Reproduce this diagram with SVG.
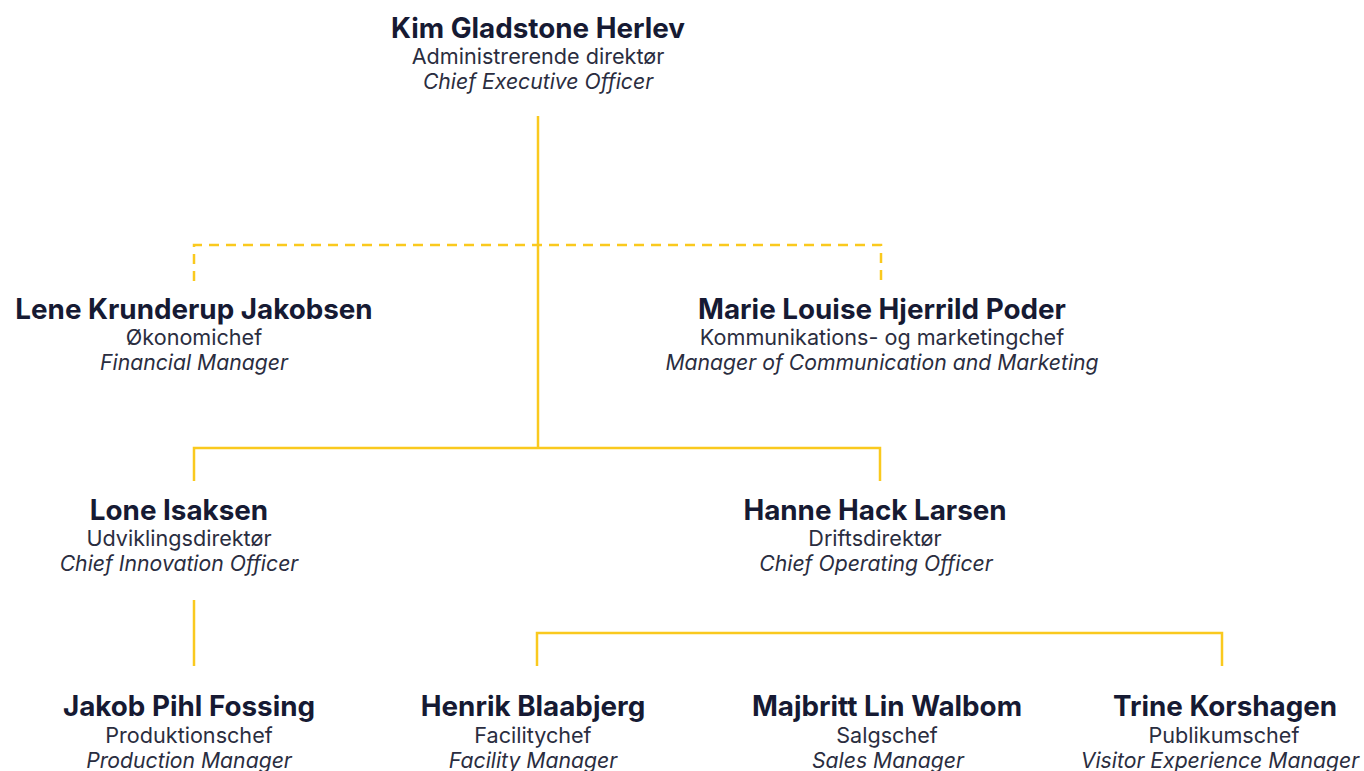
<svg xmlns="http://www.w3.org/2000/svg" width="1364" height="771" viewBox="0 0 1364 771">
<style>
.n{font-family:Inter,"Open Sans",sans-serif;font-weight:700;font-size:27.8px;fill:#161a33;text-anchor:middle}
.r{font-family:Inter,"Open Sans",sans-serif;font-size:21.6px;fill:#2a2d40;text-anchor:middle}
.e{font-family:Inter,"Open Sans",sans-serif;font-style:italic;font-size:21.2px;fill:#2a2d40;text-anchor:middle}
.l{fill:none;stroke:#fac91e;stroke-width:2.5}
.d{fill:none;stroke:#fac91e;stroke-width:2.5;stroke-dasharray:10,7}
</style>
<rect width="1364" height="771" fill="#ffffff"/>
<g id="connectors">
<path class="l" d="M538,116V448"/>
<path class="d" d="M194,281V245H881V281"/>
<path class="l" d="M194,481V448H880V481"/>
<path class="l" d="M194,600V666"/>
<path class="l" d="M537,666V633H1222V666"/>
</g>
<g id="kim"><text class="n" x="538" y="38">Kim Gladstone Herlev</text><text class="r" x="538" y="64">Administrerende direktør</text><text class="e" x="538" y="89">Chief Executive Officer</text></g>
<g id="lene"><text class="n" x="194" y="319">Lene Krunderup Jakobsen</text><text class="r" x="194" y="345">Økonomichef</text><text class="e" x="194" y="370">Financial Manager</text></g>
<g id="marie"><text class="n" x="882" y="319">Marie Louise Hjerrild Poder</text><text class="r" x="882" y="345">Kommunikations- og marketingchef</text><text class="e" x="882" y="370">Manager of Communication and Marketing</text></g>
<g id="lone"><text class="n" x="179" y="520">Lone Isaksen</text><text class="r" x="179" y="546">Udviklingsdirektør</text><text class="e" x="179" y="571">Chief Innovation Officer</text></g>
<g id="hanne"><text class="n" x="875" y="520">Hanne Hack Larsen</text><text class="r" x="875" y="546">Driftsdirektør</text><text class="e" x="876" y="571">Chief Operating Officer</text></g>
<g id="jakob"><text class="n" x="189" y="716">Jakob Pihl Fossing</text><text class="r" x="189" y="743">Produktionschef</text><text class="e" x="189" y="768">Production Manager</text></g>
<g id="henrik"><text class="n" x="533" y="716">Henrik Blaabjerg</text><text class="r" x="533" y="743">Facilitychef</text><text class="e" x="533" y="768">Facility Manager</text></g>
<g id="majbritt"><text class="n" x="887" y="716">Majbritt Lin Walbom</text><text class="r" x="887" y="743">Salgschef</text><text class="e" x="888" y="768">Sales Manager</text></g>
<g id="trine"><text class="n" x="1225" y="716">Trine Korshagen</text><text class="r" x="1224" y="743">Publikumschef</text><text class="e" x="1220" y="768">Visitor Experience Manager</text></g>
</svg>
